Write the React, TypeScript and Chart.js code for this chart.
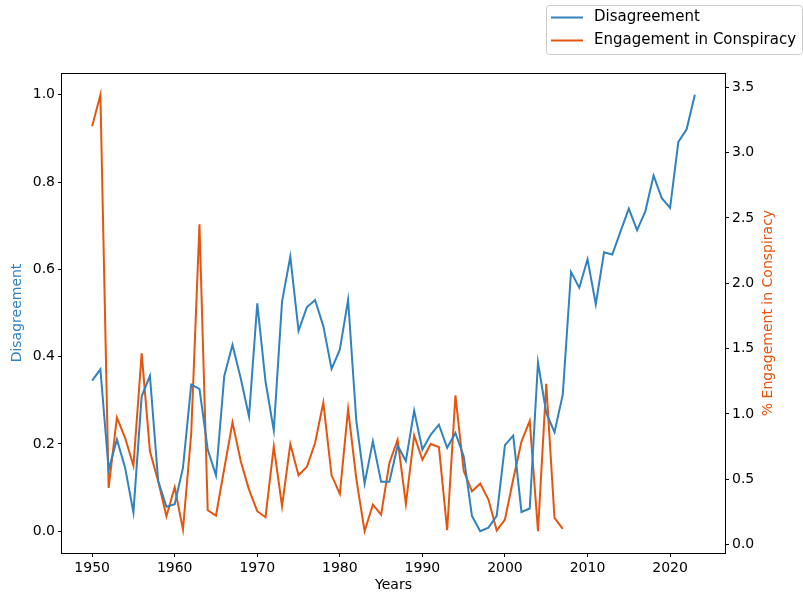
import React, { useEffect, useRef } from "react";
import { Chart, registerables } from "chart.js";

Chart.register(...registerables);

const years: number[] = [
  1950, 1951, 1952, 1953, 1954, 1955, 1956, 1957, 1958, 1959,
  1960, 1961, 1962, 1963, 1964, 1965, 1966, 1967, 1968, 1969,
  1970, 1971, 1972, 1973, 1974, 1975, 1976, 1977, 1978, 1979,
  1980, 1981, 1982, 1983, 1984, 1985, 1986, 1987, 1988, 1989,
  1990, 1991, 1992, 1993, 1994, 1995, 1996, 1997, 1998, 1999,
  2000, 2001, 2002, 2003, 2004, 2005, 2006, 2007, 2008, 2009,
  2010, 2011, 2012, 2013, 2014, 2015, 2016, 2017, 2018, 2019,
  2020, 2021, 2022, 2023,
];

const disagreement: number[] = [
  0.345, 0.371, 0.141, 0.21, 0.145, 0.043, 0.309, 0.356, 0.115, 0.056,
  0.062, 0.145, 0.336, 0.326, 0.187, 0.128, 0.355, 0.427, 0.35, 0.263,
  0.522, 0.343, 0.231, 0.526, 0.629, 0.459, 0.513, 0.53, 0.47, 0.372,
  0.416, 0.53, 0.252, 0.109, 0.206, 0.113, 0.113, 0.196, 0.161, 0.276,
  0.187, 0.221, 0.244, 0.191, 0.225, 0.172, 0.035, 0.0, 0.008, 0.035,
  0.197, 0.219, 0.044, 0.052, 0.387, 0.271, 0.227, 0.313, 0.594, 0.558,
  0.623, 0.52, 0.639, 0.634, 0.687, 0.739, 0.69, 0.733, 0.815, 0.763,
  0.741, 0.892, 0.921, 1.0,
];

const engagement: number[] = [
  3.203, 3.443, 0.433, 0.973, 0.815, 0.603, 1.464, 0.713, 0.484, 0.216,
  0.438, 0.115, 0.85, 2.452, 0.262, 0.222, 0.58, 0.935, 0.637, 0.42,
  0.255, 0.209, 0.751, 0.293, 0.769, 0.53, 0.593, 0.777, 1.087, 0.53,
  0.387, 1.037, 0.5, 0.102, 0.306, 0.229, 0.624, 0.802, 0.311, 0.835,
  0.649, 0.769, 0.746, 0.109, 1.141, 0.565, 0.407, 0.466, 0.344, 0.107,
  0.191, 0.5, 0.789, 0.947, 0.102, 1.23, 0.204, 0.12,
];

const seriesNames: string[] = ["Disagreement", "Engagement in Conspiracy"];
const leftTitle = "Disagreement";
const rightTitle = "% Engagement in Conspiracy";
const xTitle = "Years";

const BLUE = "#3182bd";
const ORANGE = "#e6550d";
const FONT = "'DejaVu Sans', sans-serif";

export default function App() {
  const ref = useRef<HTMLCanvasElement | null>(null);

  useEffect(() => {
    const canvas = ref.current;
    if (!canvas) return;

    const framePlugin = {
      id: "frameAndExtras",
      afterDraw(chart: any) {
        const ctx = chart.ctx;
        const a = chart.chartArea;
        ctx.save();
        // frame
        ctx.strokeStyle = "#000";
        ctx.lineWidth = 1;
        ctx.strokeRect(Math.round(a.left) - 0.5, Math.round(a.top) + 0.5, Math.round(a.right - a.left) + 1, Math.round(a.bottom - a.top));
        // right title
        ctx.fillStyle = ORANGE;
        ctx.font = `14px ${FONT}`;
        ctx.textAlign = "center";
        ctx.textBaseline = "middle";
        ctx.translate(768, (a.top + a.bottom) / 2);
        ctx.rotate(-Math.PI / 2);
        ctx.fillText(rightTitle, 0, 0);
        ctx.restore();

        // legend
        ctx.save();
        const bx = 546.5, by = 5.5, bw = 256, bh = 49, r = 3;
        ctx.beginPath();
        ctx.moveTo(bx + r, by);
        ctx.lineTo(bx + bw - r, by);
        ctx.arcTo(bx + bw, by, bx + bw, by + r, r);
        ctx.lineTo(bx + bw, by + bh - r);
        ctx.arcTo(bx + bw, by + bh, bx + bw - r, by + bh, r);
        ctx.lineTo(bx + r, by + bh);
        ctx.arcTo(bx, by + bh, bx, by + bh - r, r);
        ctx.lineTo(bx, by + r);
        ctx.arcTo(bx, by, bx + r, by, r);
        ctx.closePath();
        ctx.fillStyle = "rgba(255,255,255,0.8)";
        ctx.fill();
        ctx.strokeStyle = "#cccccc";
        ctx.lineWidth = 1;
        ctx.stroke();
        const colors = [BLUE, ORANGE];
        const ys = [17.5, 40.5];
        ctx.font = `15px ${FONT}`;
        ctx.textAlign = "left";
        ctx.textBaseline = "middle";
        for (let i = 0; i < seriesNames.length; i++) {
          ctx.strokeStyle = colors[i];
          ctx.lineWidth = 2;
          ctx.beginPath();
          ctx.moveTo(551, ys[i]);
          ctx.lineTo(583, ys[i]);
          ctx.stroke();
          ctx.fillStyle = "#000";
          ctx.fillText(seriesNames[i], 594, ys[i]);
        }
        ctx.restore();
      },
    };

    const tickFont = { family: FONT, size: 14 };

    const chart = new Chart(canvas, {
      type: "line",
      data: {
        datasets: [
          {
            label: seriesNames[0],
            data: years.map((y, i) => ({ x: y, y: disagreement[i] })),
            borderColor: BLUE,
            backgroundColor: BLUE,
            borderWidth: 2,
            pointRadius: 0,
            tension: 0,
            yAxisID: "y",
          },
          {
            label: seriesNames[1],
            data: engagement.map((v, i) => ({ x: years[i], y: v })),
            borderColor: ORANGE,
            backgroundColor: ORANGE,
            borderWidth: 2,
            pointRadius: 0,
            tension: 0,
            yAxisID: "y2",
          },
        ],
      },
      options: {
        responsive: false,
        animation: false,
        devicePixelRatio: 1,
        layout: { padding: { top: 73, left: 0, right: 0, bottom: 0 } },
        plugins: {
          legend: { display: false },
          tooltip: { enabled: false },
        },
        scales: {
          x: {
            type: "linear",
            position: "bottom",
            min: 1946.35,
            max: 2026.65,
            afterFit: (s: any) => { s.height = 41; },
            grid: { drawOnChartArea: false, drawTicks: true, tickLength: 4, color: "#000" },
            border: { display: false },
            ticks: {
              stepSize: 10,
              includeBounds: false,
              padding: 3,
              color: "#000",
              font: tickFont,
              maxRotation: 0,
              callback: (v: any) => String(v),
            },
            title: { display: true, text: xTitle, color: "#000", font: tickFont, padding: { top: 0, bottom: 0 } },
          },
          y: {
            type: "linear",
            position: "left",
            min: -0.05,
            max: 1.05,
            afterFit: (s: any) => { s.width = 62; },
            grid: { drawOnChartArea: false, drawTicks: true, tickLength: 4, color: "#000" },
            border: { display: false },
            ticks: {
              stepSize: 0.2,
              includeBounds: false,
              padding: 3,
              color: "#000",
              font: tickFont,
              callback: (v: any) => Number(v).toFixed(1),
            },
            title: { display: true, text: leftTitle, color: BLUE, font: tickFont, padding: { top: 9, bottom: 0 } },
          },
          y2: {
            type: "linear",
            position: "right",
            min: -0.065,
            max: 3.61,
            afterFit: (s: any) => { s.width = 78; },
            grid: { drawOnChartArea: false, drawTicks: true, tickLength: 4, color: "#000" },
            border: { display: false },
            ticks: {
              stepSize: 0.5,
              includeBounds: false,
              padding: 3,
              color: "#000",
              font: tickFont,
              callback: (v: any) => Number(v).toFixed(1),
            },
          },
        },
      },
      plugins: [framePlugin],
    } as any);

    return () => chart.destroy();
  }, []);

  return (
    <div style={{ position: "absolute", left: 0, top: 0, width: 803, height: 594, background: "#fff" }}>
      <canvas ref={ref} width={803} height={594} style={{ display: "block" }} />
    </div>
  );
}
